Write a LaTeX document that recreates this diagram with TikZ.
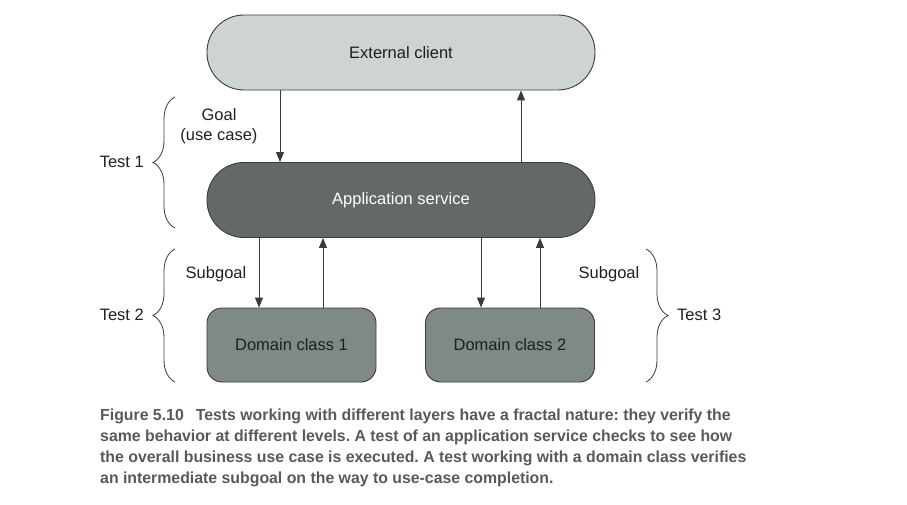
\documentclass[tikz,border=0pt]{standalone}
\usepackage{fontspec}
\setmainfont{Liberation Sans}
\newfontfamily\capfont[FakeStretch=0.99]{Liberation Sans}
\usetikzlibrary{arrows.meta,decorations.pathreplacing,calc}
\definecolor{extfill}{HTML}{CDD4D1}
\definecolor{appfill}{HTML}{646968}
\definecolor{domfill}{HTML}{7F8987}
\definecolor{edge}{HTML}{3A3A3A}
\definecolor{captext}{HTML}{58595B}
\frenchspacing
\tikzset{
  lbl/.style={font=\fontsize{16.5}{19.5}\selectfont, text=black!88, inner sep=0pt, align=center},
  pill/.style={draw=edge, line width=0.9pt, rounded corners=37pt, minimum width=388pt, minimum height=75pt, inner sep=0pt, font=\fontsize{16.5}{19.5}\selectfont},
  dombox/.style={draw=edge, line width=0.9pt, rounded corners=15pt, fill=domfill, minimum width=169pt, minimum height=74pt, inner sep=0pt, font=\fontsize{16.5}{19.5}\selectfont, text=black!88},
  arr/.style={draw=edge, line width=0.9pt, -{Triangle[length=10pt,width=8pt]}},
  brc/.style={draw=edge, line width=0.8pt, decorate, decoration={brace, amplitude=22pt}},
  captxt/.style={font=\capfont\bfseries\fontsize{16}{19}\selectfont, text=captext, anchor=west, inner sep=0pt}
}
\begin{document}
\begin{tikzpicture}[x=1pt,y=-1pt]
\useasboundingbox (0,0) rectangle (907,505);
\node[pill, fill=extfill, text=black!88] (ext) at (401,52.5) {External client};
\node[pill, fill=appfill, text=white] (app) at (401,200) {Application service};
\node[dombox] (d1) at (291.5,345) {Domain class 1};
\node[dombox] (d2) at (510,345) {Domain class 2};

\draw[arr] ([xshift=-121pt]ext.south) -- ([xshift=-121pt]app.north);
\draw[arr] ([xshift=120pt]app.north) -- ([xshift=120pt]ext.south);
\draw[arr] ([xshift=-32.5pt]d1.north |- app.south) -- ([xshift=-32.5pt]d1.north);
\draw[arr] ([xshift=31.5pt]d1.north) -- ([xshift=31.5pt]d1.north |- app.south);
\draw[arr] ([xshift=-29pt]d2.north |- app.south) -- ([xshift=-29pt]d2.north);
\draw[arr] ([xshift=30pt]d2.north) -- ([xshift=30pt]d2.north |- app.south);

\node[lbl] (goal) at (219,126) {Goal\\(use case)};
\node[lbl] (sg1) at (216,274) {Subgoal};
\node[lbl] (sg2) at (609,274) {Subgoal};

\coordinate (b1a) at (175,228);
\coordinate (b1b) at (175,97);
\coordinate (b2a) at (175,382);
\coordinate (b2b) at (175,249);
\coordinate (b3a) at (646,249);
\coordinate (b3b) at (646,382);
\draw[brc] (b1a) -- (b1b);
\draw[brc] (b2a) -- (b2b);
\draw[brc] (b3a) -- (b3b);
\node[lbl, anchor=east] (t1) at (144,162) {Test 1};
\node[lbl, anchor=east] (t2) at (144,315) {Test 2};
\node[lbl, anchor=west] (t3) at (677,315) {Test 3};

\node[captxt] (c1) at (100,416) {Figure 5.10\hspace{12pt}Tests working with different layers have a fractal nature: they verify the};
\node[captxt] (c2) at (100,437) {same behavior at different levels. A test of an application service checks to see how};
\node[captxt] (c3) at (100,458) {the overall business use case is executed. A test working with a domain class verifies};
\node[captxt] (c4) at (100,479) {an intermediate subgoal on the way to use-case completion.};
\end{tikzpicture}
\end{document}
